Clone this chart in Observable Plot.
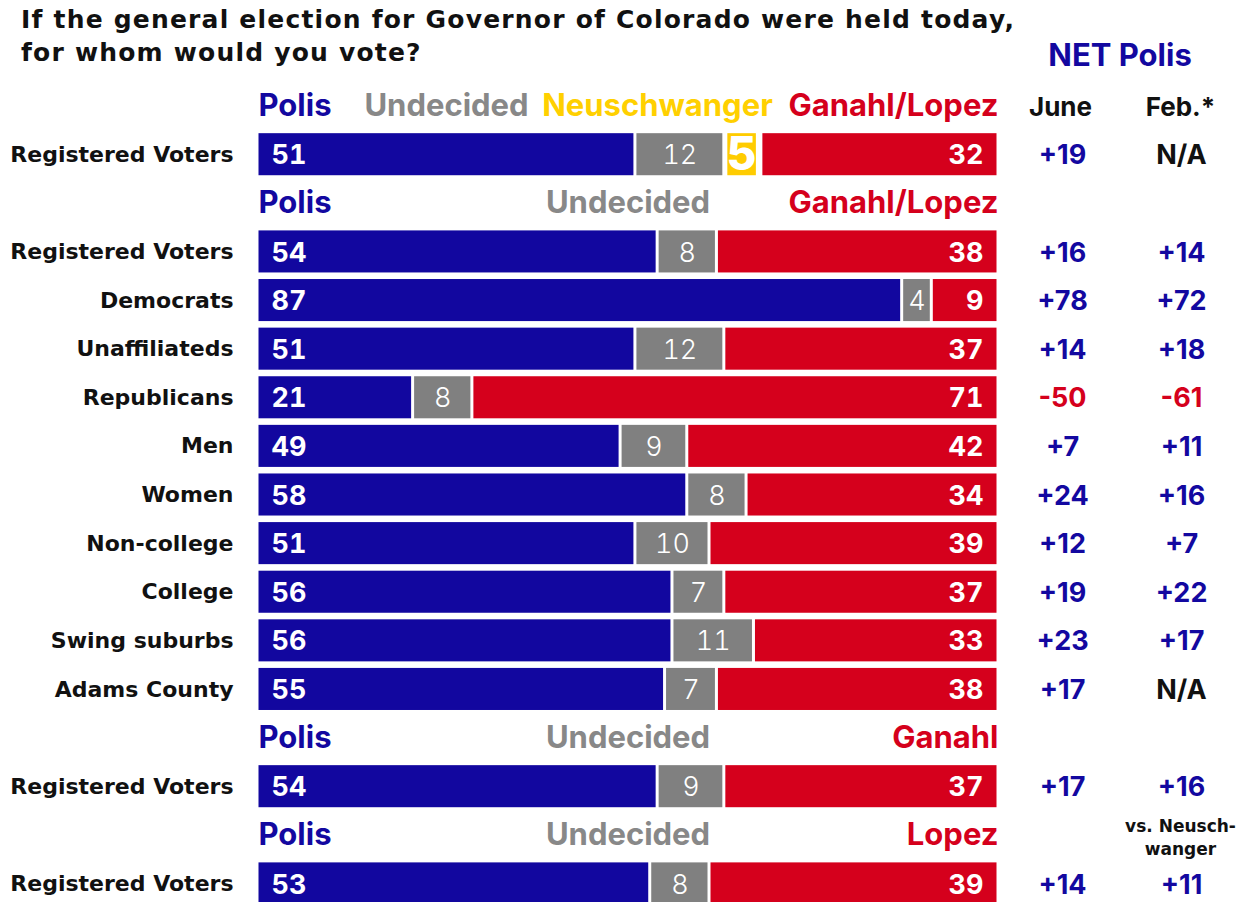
<!DOCTYPE html>
<html>
<head>
<meta charset="utf-8">
<script src="https://cdn.jsdelivr.net/npm/d3@7"></script>
<script src="https://cdn.jsdelivr.net/npm/@observablehq/plot@0.6"></script>
<style>
  html, body { margin: 0; padding: 0; background: #fff; overflow: hidden; }
  body { width: 1243px; height: 902px; position: relative; font-family: "DejaVu Sans", sans-serif; }
  #title { position: absolute; left: 21px; top: 3px; font-size: 25px; font-weight: 700; line-height: 33px; letter-spacing: 1.2px; color: #111; white-space: nowrap; }
  #net { position: absolute; left: 1000px; width: 240px; top: 38px; text-align: center; font-family: Inter, sans-serif; font-size: 31px; font-weight: 700; line-height: 33px; color: #1308a0; }
  #chart { position: absolute; left: 0; top: 78px; }
</style>
</head>
<body>
<div id="title">If the general election for Governor of Colorado were held today,<br>for whom would you vote?</div>
<div id="net">NET Polis</div>
<div id="chart"></div>
<script>
// ---- data ----
const groups = ["Registered Voters", "Registered Voters", "Democrats", "Unaffiliateds", "Republicans", "Men", "Women", "Non-college", "College", "Swing suburbs", "Adams County", "Registered Voters", "Registered Voters"];
const section = [0, 1, 1, 1, 1, 1, 1, 1, 1, 1, 1, 2, 3];
const polis = [51, 54, 87, 51, 21, 49, 58, 51, 56, 56, 55, 54, 53];
const undecided = [12, 8, 4, 12, 8, 9, 8, 10, 7, 11, 7, 9, 8];
const neuschwanger = [5, null, null, null, null, null, null, null, null, null, null, null, null];
const opponent = [32, 38, 9, 37, 71, 42, 34, 39, 37, 33, 38, 37, 39];
const netJune = ["+19", "+16", "+78", "+14", "-50", "+7", "+24", "+12", "+19", "+23", "+17", "+17", "+14"];
const netFeb = ["N/A", "+14", "+72", "+18", "-61", "+11", "+16", "+7", "+22", "+17", "N/A", "+16", "+11"];
const opponentNames = ["Ganahl/Lopez", "Ganahl/Lopez", "Ganahl", "Lopez"];
const columnHeads = ["June", "Feb.*"];
const febNote = "vs. Neusch-\nwanger";

// ---- build slots: each section has a header row followed by its rows ----
const parties = ["Polis", "Undecided", "Neuschwanger", "Opponent"];
const colors = ["#12079f", "#808080", "#ffcc00", "#d5001c"];
let slot = 0;
const headerSlots = [];
const rowSlot = [];
let prev = -1;
groups.forEach((g, i) => {
  if (section[i] !== prev) { headerSlots.push(slot++); prev = section[i]; }
  rowSlot.push(slot++);
});
const nSlots = slot;

const segments = [];
groups.forEach((g, i) => {
  segments.push({slot: rowSlot[i], party: "Polis", value: polis[i]});
  segments.push({slot: rowSlot[i], party: "Undecided", value: undecided[i]});
  if (neuschwanger[i] != null) segments.push({slot: rowSlot[i], party: "Neuschwanger", value: neuschwanger[i]});
  segments.push({slot: rowSlot[i], party: "Opponent", value: opponent[i]});
});
const rows = groups.map((g, i) => ({slot: rowSlot[i], group: g, june: netJune[i], feb: netFeb[i], polis: polis[i], opp: opponent[i]}));

const hasNeu = opponentNames.map((_, s) => groups.some((g, i) => section[i] === s && neuschwanger[i] != null));
const headers = opponentNames.map((name, s) => ({slot: headerSlots[s], opp: name, neu: hasNeu[s]}));

const netColor = v => v === "N/A" ? "#111" : (v.startsWith("-") ? "#d5001c" : "#1308a0");
const F = "Inter, 'Open Sans', sans-serif";
const FL = "'DejaVu Sans', sans-serif";
const stackOpts = {x: "value", y: "slot", z: "party", order: parties};

const plot = Plot.plot({
  width: 1243,
  height: 833,
  marginLeft: 257,
  marginRight: 245,
  marginTop: 0,
  marginBottom: 0,
  x: {domain: [0, 100], axis: null},
  y: {domain: d3.range(nSlots), padding: 0.135, round: false, axis: null},
  color: {domain: parties, range: colors},
  marks: [
    // bars
    Plot.barX(segments, Plot.filter(d => d.party !== "Neuschwanger", Plot.stackX({...stackOpts, fill: "party", insetLeft: 1.5, insetRight: 1.5}))),
    Plot.barX(segments, Plot.filter(d => d.party === "Neuschwanger", Plot.stackX({...stackOpts, fill: "party", insetLeft: 3.5, insetRight: 5}))),
    // values inside bars
    Plot.text(rows, {y: "slot", text: "polis", frameAnchor: "left", textAnchor: "start", dx: 14, dy: 1, fill: "white", fontSize: 27, fontWeight: 700, fontFamily: F}),
    Plot.text(rows, {y: "slot", text: "opp", frameAnchor: "right", textAnchor: "end", dx: -15, dy: 1, fill: "white", fontSize: 27, fontWeight: 700, fontFamily: F}),
    Plot.text(segments, Plot.filter(d => d.party === "Undecided", Plot.stackX({...stackOpts, text: "value", dy: 1, fill: "white", fontSize: 27, fontWeight: 300, fontFamily: F}))),
    Plot.text(segments, Plot.filter(d => d.party === "Neuschwanger", Plot.stackX({...stackOpts, text: "value", dx: -1, dy: 1, fill: "white", fontSize: 46, fontWeight: 800, fontFamily: F}))),
    // row labels
    Plot.text(rows, {y: "slot", text: "group", frameAnchor: "left", textAnchor: "end", dx: -24, fill: "#111", fontSize: 22, fontWeight: 700, fontFamily: FL}),
    // NET columns
    Plot.text(rows, {y: "slot", text: "june", frameAnchor: "right", textAnchor: "middle", dx: 64, dy: 1, fill: d => netColor(d.june), fontSize: 27, fontWeight: 700, fontFamily: F}),
    Plot.text(rows, {y: "slot", text: "feb", frameAnchor: "right", textAnchor: "middle", dx: 183, dy: 1, fill: d => netColor(d.feb), fontSize: 27, fontWeight: 700, fontFamily: F}),
    // headers
    Plot.text(headers, {y: "slot", text: () => "Polis", frameAnchor: "left", textAnchor: "start", dx: 1, fill: "#1308a0", fontSize: 31, fontWeight: 700, fontFamily: F}),
    Plot.text(headers, {y: "slot", text: "opp", frameAnchor: "right", textAnchor: "end", fill: "#d5001c", fontSize: 31, fontWeight: 700, fontFamily: F}),
    Plot.text(headers.filter(d => !d.neu), {y: "slot", text: () => "Undecided", frameAnchor: "middle", fill: "#888888", fontSize: 31, fontWeight: 700, fontFamily: F}),
    Plot.text(headers.filter(d => d.neu), {y: "slot", text: () => "Undecided", frameAnchor: "left", textAnchor: "middle", dx: 189, fill: "#888888", fontSize: 31, fontWeight: 700, fontFamily: F}),
    Plot.text(headers.filter(d => d.neu), {y: "slot", text: () => "Neuschwanger", frameAnchor: "left", textAnchor: "middle", dx: 400, fill: "#ffd000", fontSize: 31, fontWeight: 700, fontFamily: F}),
    Plot.text(headers.slice(0, 1), {y: "slot", text: () => columnHeads[0], frameAnchor: "right", textAnchor: "middle", dx: 62, dy: 2, fill: "#111", fontSize: 26, fontWeight: 700, fontFamily: F}),
    Plot.text(headers.slice(0, 1), {y: "slot", text: () => columnHeads[1], frameAnchor: "right", textAnchor: "middle", dx: 182, dy: 2, fill: "#111", fontSize: 26, fontWeight: 700, fontFamily: F}),
    Plot.text(headers.slice(-1), {y: "slot", text: () => febNote, frameAnchor: "right", textAnchor: "middle", dx: 182, dy: 1, lineHeight: 1.35, fill: "#111", fontSize: 17, fontWeight: 700, fontFamily: FL})
  ]
});
document.getElementById("chart").appendChild(plot);
</script>
</body>
</html>
